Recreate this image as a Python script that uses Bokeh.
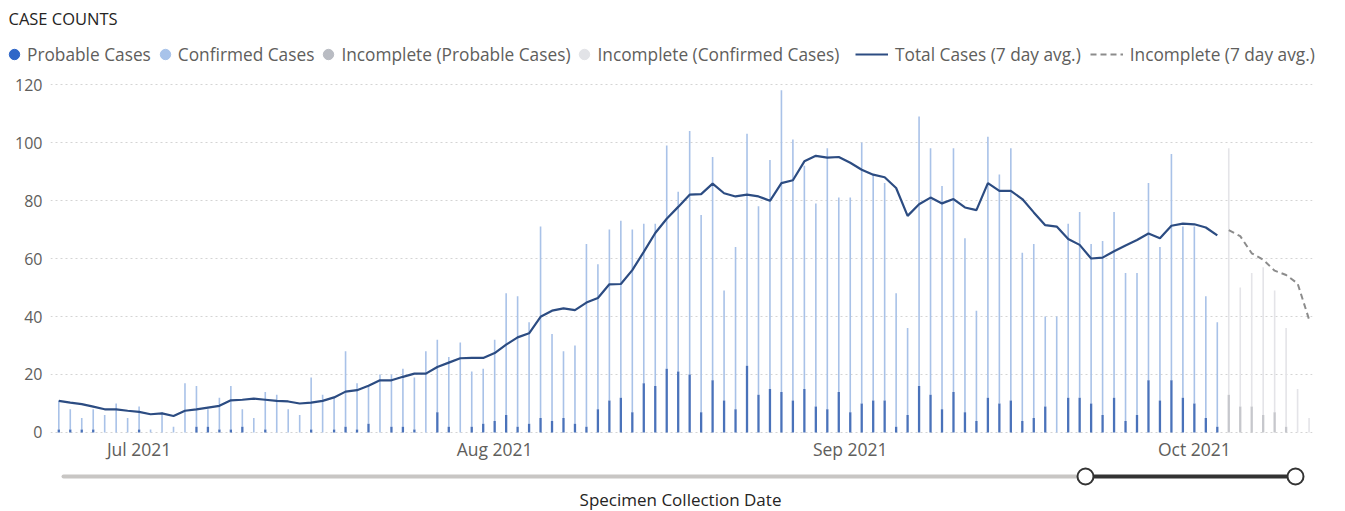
import pandas as pd
from bokeh.plotting import figure
from bokeh.models import (ColumnDataSource, Range1d, Legend, LegendItem,
                          MonthsTicker, DatetimeTickFormatter, SingleIntervalTicker)
from bokeh.embed import file_html
from bokeh.resources import INLINE
from bokeh.core.properties import value

# ---------------- data ----------------
START_DATE = "2021-06-24"          # first specimen collection date shown
# complete days (Jun 24 – Oct 3)
probable_cases = [1, 1, 1, 1, 0, 0, 0, 1, 0, 0,
                  0, 0, 2, 2, 1, 1, 2, 0, 1, 0,
                  0, 0, 1, 0, 1, 2, 1, 3, 0, 2,
                  2, 1, 0, 7, 2, 0, 2, 3, 4, 6,
                  2, 3, 5, 4, 5, 3, 2, 8, 11, 12,
                  7, 17, 16, 22, 21, 20, 7, 18, 11, 8,
                  23, 13, 15, 14, 11, 15, 9, 8, 14, 7,
                  10, 11, 11, 2, 6, 16, 13, 8, 14, 7,
                  4, 12, 10, 11, 4, 5, 9, 0, 12, 12,
                  10, 6, 12, 4, 6, 18, 11, 18, 12, 10,
                  5, 2]
confirmed_cases = [10, 7, 4, 7, 6, 10, 5, 8, 1, 7,
                   2, 17, 14, 6, 11, 15, 6, 5, 13, 13,
                   8, 6, 18, 13, 11, 26, 16, 13, 20, 18,
                   20, 18, 28, 25, 24, 31, 19, 19, 28, 42,
                   45, 35, 66, 30, 23, 27, 63, 50, 59, 61,
                   63, 55, 56, 77, 62, 84, 68, 77, 38, 56,
                   80, 65, 79, 104, 90, 77, 70, 90, 67, 74,
                   90, 78, 75, 46, 30, 93, 85, 77, 84, 60,
                   38, 90, 79, 87, 58, 60, 31, 40, 60, 64,
                   55, 60, 64, 51, 49, 68, 53, 78, 59, 61,
                   42, 36]
total_7day_avg = [10.9, 10.3, 9.8, 8.9, 8.0, 8.0, 7.5, 7.1, 6.3, 6.6,
                  5.7, 7.5, 8.0, 8.6, 9.2, 11.1, 11.3, 11.7, 11.3, 10.9,
                  10.7, 10.0, 10.3, 10.9, 12.1, 14.1, 14.6, 16.1, 18.0, 18.0,
                  19.2, 20.3, 20.3, 22.6, 24.1, 25.6, 25.7, 25.7, 27.4, 30.3,
                  32.8, 34.2, 39.9, 42.0, 42.8, 42.2, 44.8, 46.4, 51.1, 51.2,
                  56.0, 62.3, 68.8, 73.7, 77.8, 82.0, 82.2, 85.8, 82.5, 81.4,
                  82.0, 81.4, 79.9, 86.0, 87.0, 93.5, 95.4, 94.8, 95.0, 93.0,
                  90.6, 88.9, 88.0, 84.3, 74.7, 78.7, 81.0, 79.0, 80.5, 77.6,
                  76.7, 86.0, 83.3, 83.3, 80.5, 75.9, 71.5, 71.0, 66.7, 64.7,
                  60.0, 60.3, 62.5, 64.5, 66.4, 68.6, 67.0, 71.3, 72.0, 71.8,
                  70.7, 68.0]
# incomplete days (Oct 4 – Oct 11)
incomplete_probable = [13, 9, 9, 6, 7, 2, 0, 0]
incomplete_confirmed = [85, 41, 46, 51, 42, 34, 15, 5]
incomplete_7day_avg = [69.8, 67.7, 61.8, 59.6, 55.8, 54.3, 51.4, 39.0]

legend_bar_labels = ["Probable Cases", "Confirmed Cases",
                     "Incomplete (Probable Cases)", "Incomplete (Confirmed Cases)"]
legend_line_labels = ["Total Cases (7 day avg.)", "Incomplete (7 day avg.)"]
y_ticks_interval = 20
month_label_format = "%b %Y"

# ---------------- sources ----------------
DAY = pd.Timedelta(days=1)
dates = pd.date_range(START_DATE, periods=len(probable_cases), freq="D")
inc_dates = pd.date_range(dates[-1] + DAY, periods=len(incomplete_probable), freq="D")

src = ColumnDataSource(dict(
    date=dates, prob=probable_cases,
    top=[a + b for a, b in zip(probable_cases, confirmed_cases)],
    avg=total_7day_avg))
isrc = ColumnDataSource(dict(
    date=inc_dates, prob=incomplete_probable,
    top=[a + b for a, b in zip(incomplete_probable, incomplete_confirmed)],
    avg=incomplete_7day_avg))

# ---------------- styling ----------------
W = 1345
HH, HM, HS = 70, 394, 47     # header, main chart, slider heights
FONT = "Open Sans"
TXT = "#605E5C"
DARK_TXT = "#252423"

C_PROB = "#4A72BA"
C_CONF = "#A9C2E8"
C_IPROB = "#C6C7CC"
C_ICONF = "#E4E4E8"
C_LINE = "#2C4C82"
C_DASH = "#8C8C8C"
DASH = "6 4"
DOTS = ["#2F67C8", "#A8C3EA", "#B9BCC3", "#E2E3E7"]


def bare(fig):
    fig.outline_line_color = None
    fig.background_fill_color = "white"
    fig.border_fill_color = "white"
    return fig


# ---------------- header: title + legend ----------------
hdr = bare(figure(width=W, height=HH, output_backend="svg", toolbar_location=None,
                  x_range=Range1d(0, W), y_range=Range1d(HH, 0), min_border=0,
                  x_axis_location=None, y_axis_location=None))
hdr.grid.visible = False
hdr.text(x=[8], y=[18], text=["CASE COUNTS"], text_baseline="middle",
         text_font=value(FONT), text_font_size=value("16.5px"), text_color=DARK_TXT)

# legend proxies (points far outside the visible header range)
OFF = [-1000, -999]
dot_rs = [hdr.scatter(x=OFF, y=OFF, marker="circle", size=10, fill_color=c, line_color=c)
          for c in DOTS]
l_solid = hdr.line(x=OFF, y=OFF, line_color=C_LINE, line_width=2.2)
l_dash = hdr.line(x=OFF, y=OFF, line_color=C_DASH, line_width=2, line_dash=DASH)

common = dict(orientation="horizontal", padding=0, margin=0,
              background_fill_alpha=0, border_line_color=None,
              label_text_font_size="17.3px", label_text_color=TXT,
              label_text_font=FONT, glyph_height=26, label_height=22)
leg1 = Legend(items=[LegendItem(label=t, renderers=[r]) for t, r in zip(legend_bar_labels, dot_rs)],
              location=(1, HH - 67), glyph_width=26, label_standoff=0, spacing=1, **common)
leg2 = Legend(items=[LegendItem(label=legend_line_labels[0], renderers=[l_solid]),
                     LegendItem(label=legend_line_labels[1], renderers=[l_dash])],
              location=(855, HH - 67), glyph_width=33, label_standoff=7, spacing=9, **common)
hdr.add_layout(leg1)
hdr.add_layout(leg2)

# ---------------- main chart ----------------
x_start = dates[0] - 0.724 * DAY
x_end = dates[0] + 109.3 * DAY

p = bare(figure(width=W, height=HM, x_axis_type="datetime", output_backend="svg",
                toolbar_location=None, x_range=Range1d(x_start, x_end),
                y_range=Range1d(-0.69, 121.38),
                min_border_left=50, min_border_right=33, min_border_top=10,
                min_border_bottom=30))

ms_day = 86400000
w_light = 0.14 * ms_day
w_dark = 0.2 * ms_day

p.vbar(x="date", bottom="prob", top="top", width=w_light, source=src,
       fill_color=C_CONF, line_color=None)
p.vbar(x="date", bottom=0, top="prob", width=w_dark, source=src,
       fill_color=C_PROB, line_color=None)
p.vbar(x="date", bottom="prob", top="top", width=w_light, source=isrc,
       fill_color=C_ICONF, line_color=None)
p.vbar(x="date", bottom=0, top="prob", width=w_dark, source=isrc,
       fill_color=C_IPROB, line_color=None)
p.line(x="date", y="avg", source=src, line_color=C_LINE, line_width=2.2)
p.line(x="date", y="avg", source=isrc, line_color=C_DASH, line_width=2, line_dash=DASH)

p.xaxis.ticker = MonthsTicker(months=list(range(12)))
p.xaxis.formatter = DatetimeTickFormatter(days=month_label_format, months=month_label_format,
                                          years=month_label_format)
for ax in (p.xaxis, p.yaxis):
    ax.axis_line_color = None
    ax.major_tick_line_color = None
    ax.minor_tick_line_color = None
    ax.major_tick_out = 0
    ax.major_tick_in = 0
    ax.minor_tick_out = 0
    ax.major_label_text_color = TXT
    ax.major_label_text_font = FONT
p.xaxis.major_label_text_font_size = "17.5px"
p.xaxis.major_label_standoff = 2
p.yaxis.ticker = SingleIntervalTicker(interval=y_ticks_interval)
p.yaxis.major_label_text_font_size = "16px"
p.yaxis.major_label_standoff = 8

p.xgrid.visible = False
p.ygrid.grid_line_color = "#D4D4D4"
p.ygrid.grid_line_dash = "2 3"
p.ygrid.grid_line_width = 1

# ---------------- date-range slider + axis title ----------------
top_y = HH + HM
s = bare(figure(width=W, height=HS, output_backend="svg", toolbar_location=None,
                x_range=Range1d(0, W), y_range=Range1d(top_y + HS, top_y),
                min_border=0, x_axis_location=None, y_axis_location=None))
s.grid.visible = False
s.line(x=[63, 1085], y=[476, 476], line_width=4, line_color="#C8C6C4", line_cap="round")
s.line(x=[1085, 1295], y=[476, 476], line_width=4, line_color="#333333", line_cap="round")
s.scatter(x=[1085, 1295], y=[476, 476], marker="circle", size=16,
          fill_color="white", line_color="#333333", line_width=2)
s.text(x=[680], y=[499], text=["Specimen Collection Date"], text_align="center",
       text_baseline="middle", text_font=value(FONT), text_font_size=value("17px"),
       text_color=DARK_TXT)

open("out.html", "w").write(file_html([hdr, p, s], INLINE))
